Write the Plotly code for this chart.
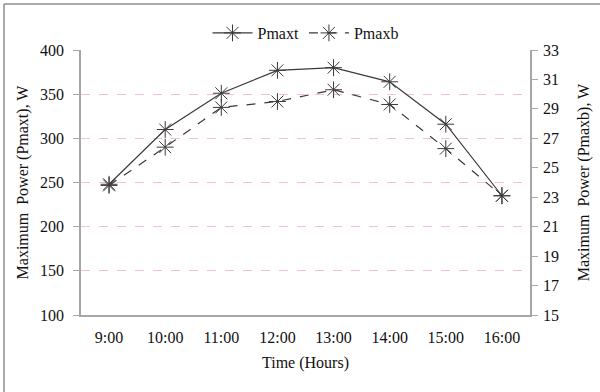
import plotly.graph_objects as go

hours = ["9:00", "10:00", "11:00", "12:00", "13:00", "14:00", "15:00", "16:00"]
pmaxt = [248, 310, 351, 377, 380, 364, 316, 235]
pmaxb = [23.8, 26.4, 29.1, 29.5, 30.3, 29.3, 26.3, 23.1]

FONT = "Liberation Serif, Times New Roman, serif"
FS = 16
LINE_COLOR = "#3a3a3a"
AXIS_COLOR = "#a6a6a6"
GRID_COLOR = "#f2c4c4"

# plot-area geometry in pixels, used for the outer frame
L, R, T, B = 81, 70, 50, 77
W, H = 600, 392
PW, PH = W - L - R, H - T - B

fig = go.Figure()
fig.add_trace(go.Scatter(
    x=hours, y=pmaxt, name="Pmaxt", mode="lines+markers",
    line=dict(color=LINE_COLOR, width=1.2),
    marker=dict(symbol="asterisk-open", size=14,
                line=dict(color="#1a1a1a", width=1)),
))
fig.add_trace(go.Scatter(
    x=hours, y=pmaxb, name="Pmaxb", mode="lines+markers", yaxis="y2",
    line=dict(color=LINE_COLOR, width=1.2, dash="dash"),
    marker=dict(symbol="asterisk-open", size=14,
                line=dict(color="#1a1a1a", width=1)),
))

# frame edges along the top and left of the figure
fx0 = (4 - L) / PW
fy1 = (H - 4 - B) / PH
frame = dict(color="#8c8c8c", width=1.5)
fig.add_shape(type="line", xref="paper", yref="paper",
              x0=fx0, x1=(W + 10 - L) / PW, y0=fy1, y1=fy1, line=frame, layer="below")
fig.add_shape(type="line", xref="paper", yref="paper",
              x0=fx0, x1=fx0, y0=-(B + 10) / PH, y1=fy1, line=frame, layer="below")

fig.update_layout(
    width=W, height=H,
    margin=dict(l=L, r=R, t=T, b=B, autoexpand=False),
    paper_bgcolor="white", plot_bgcolor="white",
    font=dict(family=FONT, size=FS, color="#111111"),
    showlegend=True,
    legend=dict(orientation="h", x=0.5, xanchor="center", y=(H - 16 - B) / PH, yanchor="top",
                font=dict(family=FONT, size=FS), itemwidth=40,
                bgcolor="rgba(0,0,0,0)"),
    xaxis=dict(
        type="category", range=[-0.5, 7.5],
        showline=True, linecolor=AXIS_COLOR, linewidth=1.5,
        ticks="", showgrid=False, zeroline=False, ticklabelstandoff=7,
        title=dict(text="Time (Hours)", font=dict(family=FONT, size=FS), standoff=12),
        tickfont=dict(family=FONT, size=FS),
    ),
    yaxis=dict(
        range=[100, 400], dtick=50, tick0=100,
        showline=True, linecolor=AXIS_COLOR, linewidth=1.5,
        ticks="outside", ticklen=6, tickcolor=AXIS_COLOR, ticklabelstandoff=6,
        showgrid=True, gridcolor=GRID_COLOR, griddash="dash", gridwidth=1,
        zeroline=False,
        title=dict(text="Maximum  Power (Pmaxt), W", font=dict(family=FONT, size=FS), standoff=7),
        tickfont=dict(family=FONT, size=FS),
    ),
    yaxis2=dict(
        range=[15, 33], dtick=2, tick0=15,
        overlaying="y", side="right",
        showline=True, linecolor=AXIS_COLOR, linewidth=1.5,
        ticks="outside", ticklen=6, tickcolor=AXIS_COLOR, ticklabelstandoff=2,
        showgrid=False, zeroline=False,
        title=dict(text="Maximum  Power (Pmaxb), W", font=dict(family=FONT, size=FS), standoff=20),
        tickfont=dict(family=FONT, size=FS),
    ),
)

fig.write_html("out.html")
